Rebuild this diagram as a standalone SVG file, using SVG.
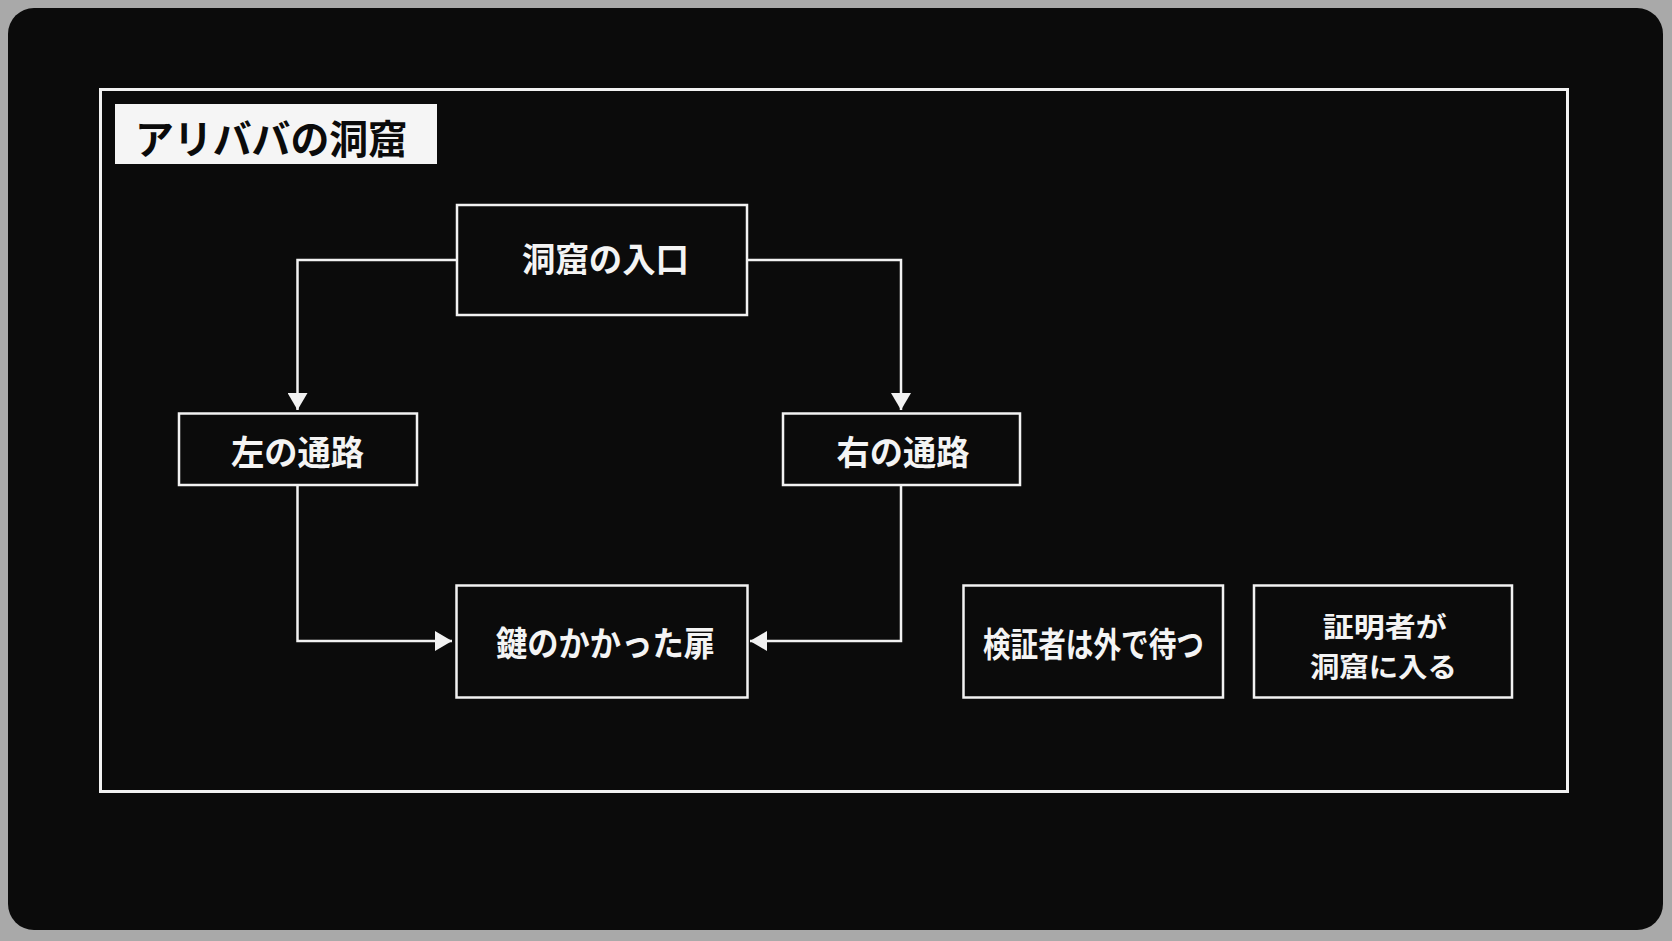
<svg xmlns="http://www.w3.org/2000/svg" width="1672" height="941" viewBox="0 0 1672 941">
  <style>
    .box { fill: #0b0b0b; stroke: #f2f2f2; stroke-width: 2.5; }
    .lbl { fill: #f4f4f4; font-family: "Noto Sans CJK JP", "Noto Sans", sans-serif; font-weight: 700; text-anchor: middle; }
    .conn { fill: none; stroke: #f2f2f2; stroke-width: 2.5; }
  </style>
  <defs>
    <marker id="arrow" markerUnits="userSpaceOnUse" markerWidth="18" markerHeight="20" refX="17" refY="10" orient="auto" viewBox="0 0 18 20">
      <path d="M0,0 L17,10 L0,20 z" fill="#f2f2f2"/>
    </marker>
  </defs>
  <rect x="0" y="0" width="1672" height="941" fill="#a9a9a9"/>
  <rect x="8" y="8" width="1655" height="922" rx="26" ry="26" fill="#0b0b0b"/>
  <rect x="100.5" y="89.5" width="1467" height="702" fill="none" stroke="#f2f2f2" stroke-width="3"/>

  <g id="title">
    <rect x="115" y="104" width="322" height="60" fill="#f5f5f5"/>
    <text x="135" y="154" font-family="Noto Sans CJK JP, Noto Sans, sans-serif" font-weight="700" font-size="40" fill="#0b0b0b" textLength="272" lengthAdjust="spacingAndGlyphs">アリババの洞窟</text>
  </g>

  <g id="connectors">
    <path class="conn" d="M457,260 H297.5 V410" marker-end="url(#arrow)"/>
    <path class="conn" d="M747,260 H901 V410" marker-end="url(#arrow)"/>
    <path class="conn" d="M297.5,485 V641 H452" marker-end="url(#arrow)"/>
    <path class="conn" d="M901,485 V641 H750" marker-end="url(#arrow)"/>
  </g>

  <g id="entrance">
    <rect class="box" x="457" y="205" width="290" height="110"/>
    <text class="lbl" x="605.5" y="271.5" font-size="34" textLength="167" lengthAdjust="spacingAndGlyphs">洞窟の入口</text>
  </g>
  <g id="left-path">
    <rect class="box" x="179" y="413.5" width="238" height="71.5"/>
    <text class="lbl" x="297.5" y="464.5" font-size="34" textLength="133" lengthAdjust="spacingAndGlyphs">左の通路</text>
  </g>
  <g id="right-path">
    <rect class="box" x="783" y="413.5" width="237" height="71.5"/>
    <text class="lbl" x="903" y="464.5" font-size="34" textLength="133" lengthAdjust="spacingAndGlyphs">右の通路</text>
  </g>
  <g id="locked-door">
    <rect class="box" x="456.5" y="585.5" width="291" height="112"/>
    <text class="lbl" x="605.5" y="655.5" font-size="34" textLength="219" lengthAdjust="spacingAndGlyphs">鍵のかかった扉</text>
  </g>
  <g id="verifier">
    <rect class="box" x="963.5" y="585.5" width="259.5" height="112"/>
    <text class="lbl" x="1093.4" y="656.5" font-size="34" textLength="221" lengthAdjust="spacingAndGlyphs">検証者は外で待つ</text>
  </g>
  <g id="prover">
    <rect class="box" x="1254" y="585.5" width="258" height="112"/>
    <text class="lbl" x="1384.7" y="636.5" font-size="27.5" textLength="124" lengthAdjust="spacingAndGlyphs">証明者が</text>
    <text class="lbl" x="1383.4" y="676.5" font-size="27.5" textLength="147" lengthAdjust="spacingAndGlyphs">洞窟に入る</text>
  </g>
</svg>
